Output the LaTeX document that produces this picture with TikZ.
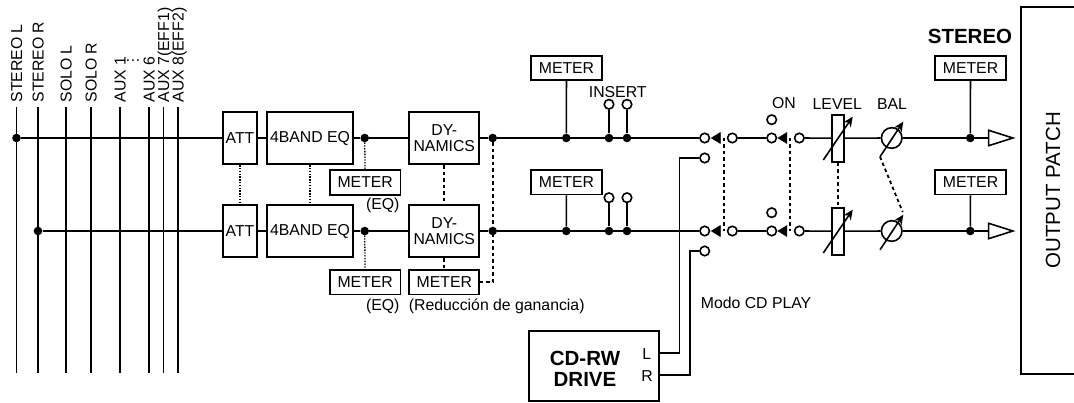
\documentclass[tikz,border=0pt]{standalone}
\usepackage{fontspec}
\setmainfont{Liberation Sans}
\usetikzlibrary{shapes,arrows.meta,positioning,calc}
\newcommand{\lblfont}{\fontsize{15.8}{16}\selectfont}
\newcommand{\bigfont}{\fontsize{20.5}{21.3}\selectfont}
\tikzstyle{wire} = [line width=1.6pt]
\tikzstyle{block} = [rectangle, draw=black, fill=white, line width=1.8pt, inner sep=0pt, align=center, font=\lblfont]
\tikzstyle{attbox} = [block, minimum width=34.6pt, minimum height=52.5pt]
\tikzstyle{eqbox} = [block, minimum width=86.6pt, minimum height=52.5pt]
\tikzstyle{dynbox} = [block, minimum width=70pt, minimum height=52.5pt]
\tikzstyle{meter} = [block, minimum width=70.5pt, minimum height=24.5pt]
\tikzstyle{fader} = [block, minimum width=12pt, minimum height=47pt]
\tikzstyle{pot} = [circle, draw=black, fill=white, line width=1.6pt, inner sep=0pt, minimum size=20.6pt]
\tikzstyle{dot} = [circle, fill=black, inner sep=0pt, minimum size=8.6pt]
\tikzstyle{term} = [circle, draw=black, fill=white, line width=1.6pt, inner sep=0pt, minimum size=9.5pt]
\tikzstyle{swtip} = [isosceles triangle, isosceles triangle stretches, shape border rotate=180, draw=black, fill=black, line width=0.5pt, inner sep=0pt, minimum width=11pt, minimum height=9pt, anchor=apex]
\tikzstyle{outtip} = [isosceles triangle, isosceles triangle stretches, draw=black, fill=white, line width=1.6pt, inner sep=0pt, minimum width=15.4pt, minimum height=24.3pt, anchor=apex]
\tikzstyle{lbl} = [inner sep=0pt, font=\lblfont]
\tikzstyle{buslbl} = [lbl, rotate=90, anchor=west, text height=11.3pt, text depth=0pt, xshift=-1pt]
\tikzstyle{gang} = [line width=1.8pt, dash pattern=on 3.5pt off 3pt]
\tikzstyle{link} = [line width=1.3pt, dash pattern=on 1.4pt off 1.4pt]
\tikzstyle{trim} = [wire, -{Stealth[length=10pt,width=9pt]}]
\begin{document}
\begin{tikzpicture}[x=1pt, y=-1pt, node distance=93pt]
    \useasboundingbox (0,0) rectangle (1074,403);
    % Bus ends
    \coordinate (stlTop) at (16.5,107); \coordinate (stlEnd) at (16.5,373);
    \coordinate (strTop) at (38,107); \coordinate (strEnd) at (38,373);
    \coordinate (solTop) at (66,107); \coordinate (solEnd) at (66,373);
    \coordinate (sorTop) at (91,107); \coordinate (sorEnd) at (91,373);
    \coordinate (aux1Top) at (120,107); \coordinate (aux1End) at (120,373);
    \coordinate (aux6Top) at (149,107); \coordinate (aux6End) at (149,373);
    \coordinate (aux7Top) at (163.5,107); \coordinate (aux7End) at (163.5,373);
    \coordinate (aux8Top) at (178,107); \coordinate (aux8End) at (178,373);

    % Bus labels
    \node (lblStl) [buslbl] at (16.5,101.7) {STEREO L};
    \node (lblStr) [buslbl] at (38,101.7) {STEREO R};
    \node (lblSol) [buslbl] at (66,101.7) {SOLO L};
    \node (lblSor) [buslbl] at (91,101.7) {SOLO R};
    \node (lblAux1) [buslbl] at (120,101.7) {AUX 1};
    \node (lblDots) [lbl, anchor=base] at (133,61.5) {…};
    \node (lblAux6) [buslbl] at (149,101.7) {AUX 6};
    \node (lblAux7) [buslbl] at (163.5,101.7) {AUX 7(EFF1)};
    \node (lblAux8) [buslbl] at (178,101.7) {AUX 8(EFF2)};

    % Nodes
    \node (dotStl) [dot] at (16.5,138) {};
    \node (dotStr) [dot, below of=dotStl, xshift=21.5pt] {};
    \node (attL) [attbox] at (240,138) {ATT};
    \node (attR) [attbox, below of=attL] {ATT};
    \node (eqL) [eqbox] at (310,138) {4BAND EQ};
    \node (eqR) [eqbox, below of=eqL] {4BAND EQ};
    \node (dotEqL) [dot] at (364.7,138) {};
    \node (dotEqR) [dot, below of=dotEqL] {};
    \node (meterEqL) [meter] at (365.2,182.5) {METER};
    \node (meterEqR) [meter] at (365.2,282.3) {METER};
    \node (lblEqL) [lbl] at (382.7,205) {(EQ)};
    \node (lblEqR) [lbl] at (382.7,306) {(EQ)};
    \node (dynL) [dynbox] at (444.3,138) {DY-\\NAMICS};
    \node (dynR) [dynbox, below of=dynL] {DY-\\NAMICS};
    \node (meterGain) [meter, minimum width=70pt] at (444.3,282.3) {METER};
    \node (lblGain) [lbl, anchor=west] at (408.7,306) {(Reducción de ganancia)};
    \node (dotDynL) [dot] at (492.7,138) {};
    \node (dotDynR) [dot, below of=dotDynL] {};
    \coordinate (gainCorner) at (492.7,282.3);

    \node (meterInsL) [meter] at (566.5,68) {METER};
    \node (meterInsR) [meter] at (566.5,182.3) {METER};
    \node (dotMeterL) [dot] at (566.3,138) {};
    \node (dotMeterR) [dot, below of=dotMeterL] {};
    \node (dotSendL) [dot] at (609,138) {};
    \node (dotSendR) [dot, below of=dotSendL] {};
    \node (dotRetL) [dot] at (627,138) {};
    \node (dotRetR) [dot, below of=dotRetL] {};
    \node (sendL) [term] at (609,104.3) {};
    \node (sendR) [term] at (609,197.7) {};
    \node (retL) [term] at (627,104.3) {};
    \node (retR) [term] at (627,197.7) {};
    \node (lblInsert) [lbl] at (617.7,91.7) {INSERT};

    \node (swAL) [term] at (704.7,138) {};
    \node (swAR) [term, below of=swAL] {};
    \node (swBL) [term] at (732.3,138) {};
    \node (swBR) [term, below of=swBL] {};
    \node (cdInL) [term] at (704.7,158) {};
    \node (cdInR) [term, below of=cdInL] {};
    \node (tipAL) [swtip] at (710.7,138) {};
    \node (tipAR) [swtip] at (710.7,231) {};
    \coordinate (gangAL) at (723.7,138);
    \coordinate (gangAR) at (723.7,231);

    \node (onAL) [term] at (771.7,138) {};
    \node (onAR) [term, below of=onAL] {};
    \node (onBL) [term] at (799.3,138) {};
    \node (onBR) [term, below of=onBL] {};
    \node (onOffL) [term] at (771.7,119.7) {};
    \node (onOffR) [term, below of=onOffL] {};
    \node (tipOnL) [swtip] at (777.3,138) {};
    \node (tipOnR) [swtip] at (777.3,231) {};
    \coordinate (gangOnL) at (790.3,138);
    \coordinate (gangOnR) at (790.3,231);
    \node (lblOn) [lbl] at (784,103.3) {ON};

    \node (levL) [fader] at (837.7,138.2) {};
    \node (levR) [fader, below of=levL] {};
    \node (lblLevel) [lbl] at (837.3,104) {LEVEL};
    \coordinate (levLa) at (823.3,160);
    \coordinate (levLb) at (852.7,116.7);
    \coordinate (levRa) at (823.3,253);
    \coordinate (levRb) at (852.7,209.7);

    \node (balL) [pot] at (891.7,138) {};
    \node (balR) [pot, below of=balL] {};
    \node (lblBal) [lbl] at (892,104) {BAL};
    \coordinate (balLa) at (880,156.7);
    \coordinate (balLb) at (903.3,121.7);
    \coordinate (balRa) at (880,249.7);
    \coordinate (balRb) at (903.3,214.7);
    \coordinate (balGang) at (902.7,212);

    \node (lblStereo) [lbl, font=\bigfont\bfseries] at (970,36.7) {STEREO};
    \node (meterOutL) [meter] at (970.5,68) {METER};
    \node (meterOutR) [meter] at (970.5,182.3) {METER};
    \node (dotOutL) [dot] at (970.3,138) {};
    \node (dotOutR) [dot, below of=dotOutL] {};
    \node (outL) [outtip] at (1015,138) {};
    \node (outR) [outtip] at (1015,231) {};
    \node (patch) [block, font=\bigfont, rotate=90, minimum width=367.3pt, minimum height=64pt] at (1053,190.3) {OUTPUT PATCH};

    \node (cdrw) [block, font=\bigfont\bfseries, minimum width=130pt, minimum height=70pt] at (593.7,366) {};
    \node (lblCd) [lbl, font=\bigfont\bfseries, align=center] at (585,368.5) {CD-RW\\DRIVE};
    \node (lblCdL) [lbl] at (646.7,354) {L};
    \node (lblCdR) [lbl] at (647,376) {R};
    \coordinate (cdOutL) at (658.7,353);
    \coordinate (cdOutR) at (658.7,375.3);
    \coordinate (cdBendL) at (679.3,353);
    \coordinate (cdBendR) at (690,375.3);
    \node (lblMode) [lbl, anchor=west] at (700.7,302.7) {Modo CD PLAY};

    % Buses
    \draw [wire] (stlTop) -- (stlEnd);
    \draw [wire, line width=1.9pt] (strTop) -- (strEnd);
    \draw [wire] (solTop) -- (solEnd);
    \draw [wire] (sorTop) -- (sorEnd);
    \draw [wire] (aux1Top) -- (aux1End);
    \draw [wire] (aux6Top) -- (aux6End);
    \draw [wire] (aux7Top) -- (aux7End);
    \draw [wire] (aux8Top) -- (aux8End);

    % Channel L
    \draw [wire] (dotStl) -- (attL);
    \draw [wire] (attL) -- (eqL);
    \draw [wire] (eqL) -- (dotEqL);
    \draw [wire] (dotEqL) -- (dynL);
    \draw [wire] (dynL) -- (dotDynL);
    \draw [wire] (dotDynL) -- (swAL);
    \draw [wire] (meterInsL) -- (dotMeterL);
    \draw [wire] (sendL) -- (dotSendL);
    \draw [wire] (retL) -- (dotRetL);
    \draw [wire] (swBL) -- (onAL);
    \draw [wire] (onBL) -- (levL);
    \draw [wire] (levL) -- (balL);
    \draw [wire] (balL) -- (outL);
    \draw [wire] (meterOutL) -- (dotOutL);

    % Channel R
    \draw [wire] (dotStr) -- (attR);
    \draw [wire] (attR) -- (eqR);
    \draw [wire] (eqR) -- (dotEqR);
    \draw [wire] (dotEqR) -- (dynR);
    \draw [wire] (dynR) -- (dotDynR);
    \draw [wire] (dotDynR) -- (swAR);
    \draw [wire] (meterInsR) -- (dotMeterR);
    \draw [wire] (sendR) -- (dotSendR);
    \draw [wire] (retR) -- (dotRetR);
    \draw [wire] (swBR) -- (onAR);
    \draw [wire] (onBR) -- (levR);
    \draw [wire] (levR) -- (balR);
    \draw [wire] (balR) -- (outR);
    \draw [wire] (meterOutR) -- (dotOutR);

    % CD inputs
    \draw [wire] (cdInL) -| (cdBendL) -- (cdOutL);
    \draw [wire, line width=1.9pt] (cdInR) -| (cdBendR) -- (cdOutR);

    % Trim arrows
    \draw [trim] (levLa) -- (levLb);
    \draw [trim] (levRa) -- (levRb);
    \draw [trim] (balLa) -- (balLb);
    \draw [trim] (balRa) -- (balRb);

    % Ganged controls
    \draw [link] (attL) -- (attR);
    \draw [link] (eqL) -- (eqR);
    \draw [link] (dotEqL) -- (meterEqL);
    \draw [link] (dotEqR) -- (meterEqR);
    \draw [gang] (dynL) -- (dynR);
    \draw [gang] (dynR) -- (meterGain);
    \draw [gang] (dotDynL) -- (gainCorner) -- (meterGain);
    \draw [gang] (gangAL) -- (gangAR);
    \draw [gang] (gangOnL) -- (gangOnR);
    \draw [gang] (levL) -- (levR);
    \draw [gang] (balLa) -- (balGang);
\end{tikzpicture}
\end{document}
